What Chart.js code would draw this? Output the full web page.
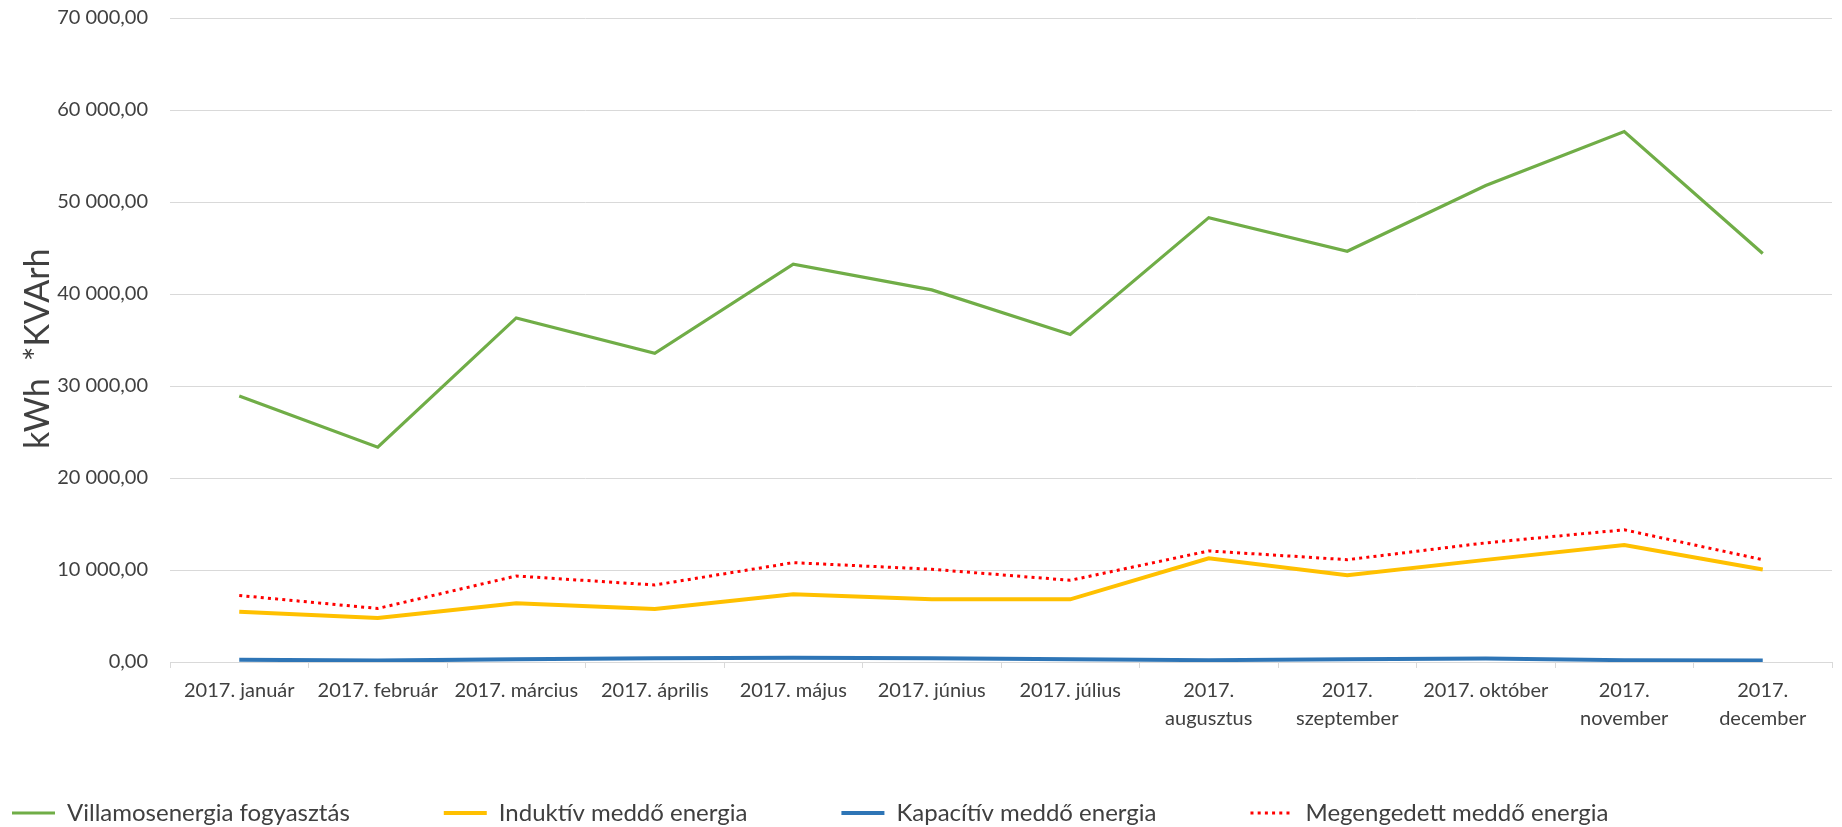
<!DOCTYPE html>
<html>
<head>
<meta charset="utf-8">
<script src="https://cdn.jsdelivr.net/npm/chart.js@4.4.1/dist/chart.umd.min.js"></script>
<style>
html,body{margin:0;padding:0;background:#ffffff;}
#wrap{width:1842px;height:827px;position:relative;}
</style>
</head>
<body>
<div id="wrap"><canvas id="c"></canvas></div>
<script>
// ---- data ----
const categories = [
  '2017. január', '2017. február', '2017. március', '2017. április',
  '2017. május', '2017. június', '2017. július', ['2017.', 'augusztus'],
  ['2017.', 'szeptember'], '2017. október', ['2017.', 'november'], ['2017.', 'december']
];
const seriesNames = [
  'Villamosenergia fogyasztás',
  'Induktív meddő energia',
  'Kapacítív meddő energia',
  'Megengedett meddő energia'
];
const villamosenergia = [28900, 23350, 37400, 33550, 43250, 40450, 35600, 48300, 44650, 51800, 57650, 44400];
const induktiv       = [5450, 4780, 6380, 5760, 7360, 6810, 6810, 11280, 9440, 11100, 12720, 10060];
const kapacitiv      = [250, 150, 300, 400, 450, 400, 300, 200, 300, 380, 200, 150];
const megengedett    = [7230, 5820, 9350, 8370, 10800, 10080, 8880, 12070, 11120, 12950, 14370, 11120];
const yAxisTitle = 'kWh \u00A0*KVArh';
const yMin = 0, yMax = 70000, yStep = 10000;

// ---- helpers ----
function huFormat(v) {
  const s = Math.round(v).toString();
  const grouped = s.replace(/\B(?=(\d{3})+(?!\d))/g, ' ');
  return grouped + ',00';
}
const FONT = 'Lato';
const TEXT = '#404040';
const LEGEND_PAD = 94;
const LEGEND_FONT = 24;

const legendShift = {
  id: 'legendShift',
  afterLayout(chart) {
    const l = chart.legend;
    if (!l) return;
    const dx = 12 - (l.left + LEGEND_PAD);
    l.left += dx;
    const targetTop = 813 - LEGEND_PAD - LEGEND_FONT / 2;
    l.top = targetTop;
    l.bottom = chart.height;
  }
};

const ctx = document.getElementById('c');
new Chart(ctx, {
  type: 'line',
  data: {
    labels: categories,
    datasets: [
      { label: seriesNames[0], data: villamosenergia, borderColor: '#70AD47', backgroundColor: '#70AD47', borderWidth: 3.2 },
      { label: seriesNames[1], data: induktiv, borderColor: '#FFC000', backgroundColor: '#FFC000', borderWidth: 4 },
      { label: seriesNames[2], data: kapacitiv, borderColor: '#2E75B6', backgroundColor: '#2E75B6', borderWidth: 4 },
      { label: seriesNames[3], data: megengedett, borderColor: '#FF0000', backgroundColor: '#FF0000', borderWidth: 3, borderDash: [3, 4.2] }
    ]
  },
  options: {
    responsive: true,
    maintainAspectRatio: false,
    animation: false,
    devicePixelRatio: 1,
    elements: { point: { radius: 0, hoverRadius: 0 }, line: { tension: 0, fill: false } },
    layout: { padding: { top: 18, right: 10, bottom: 0, left: 0 } },
    plugins: {
      tooltip: { enabled: false },
      legend: {
        position: 'bottom',
        align: 'start',
        maxHeight: 60,
        labels: {
          usePointStyle: true,
          pointStyle: 'line',
          pointStyleWidth: 43,
          padding: LEGEND_PAD,
          color: TEXT,
          font: { family: FONT, size: LEGEND_FONT },
          generateLabels(chart) {
            const items = Chart.defaults.plugins.legend.labels.generateLabels(chart);
            items.forEach(it => {
              const ds = chart.data.datasets[it.datasetIndex];
              it.lineWidth = ds.borderWidth;
              it.lineDash = ds.borderDash || [];
              it.strokeStyle = ds.borderColor;
              it.fillStyle = ds.borderColor;
              it.pointStyle = 'line';
              it.lineCap = 'butt';
            });
            return items;
          }
        }
      }
    },
    scales: {
      x: {
        offset: true,
        grid: { offset: true, drawOnChartArea: false, drawTicks: true, tickLength: 6, color: '#D9D9D9' },
        border: { display: true, color: '#D9D9D9' },
        ticks: { maxRotation: 0, minRotation: 0, autoSkip: false, padding: 9, color: TEXT,
                 font: { family: FONT, size: 20, lineHeight: 1.4 } },
        afterFit(s) { s.height = 105; }
      },
      y: {
        min: yMin, max: yMax,
        ticks: { stepSize: yStep, padding: 22, color: TEXT, font: { family: FONT, size: 20 },
                 callback: (v) => huFormat(v) },
        grid: { color: '#D9D9D9', drawTicks: false, lineWidth: 1 },
        border: { display: false },
        title: { display: true, text: yAxisTitle + '\u00A0\u00A0', color: TEXT,
                 font: { family: FONT, size: 34 }, padding: { top: 18, bottom: 0 } },
        afterFit(s) { s.width = 170; s.paddingTop = 0; s.paddingBottom = 0; }
      }
    }
  },
  plugins: [legendShift]
});
</script>
</body>
</html>
